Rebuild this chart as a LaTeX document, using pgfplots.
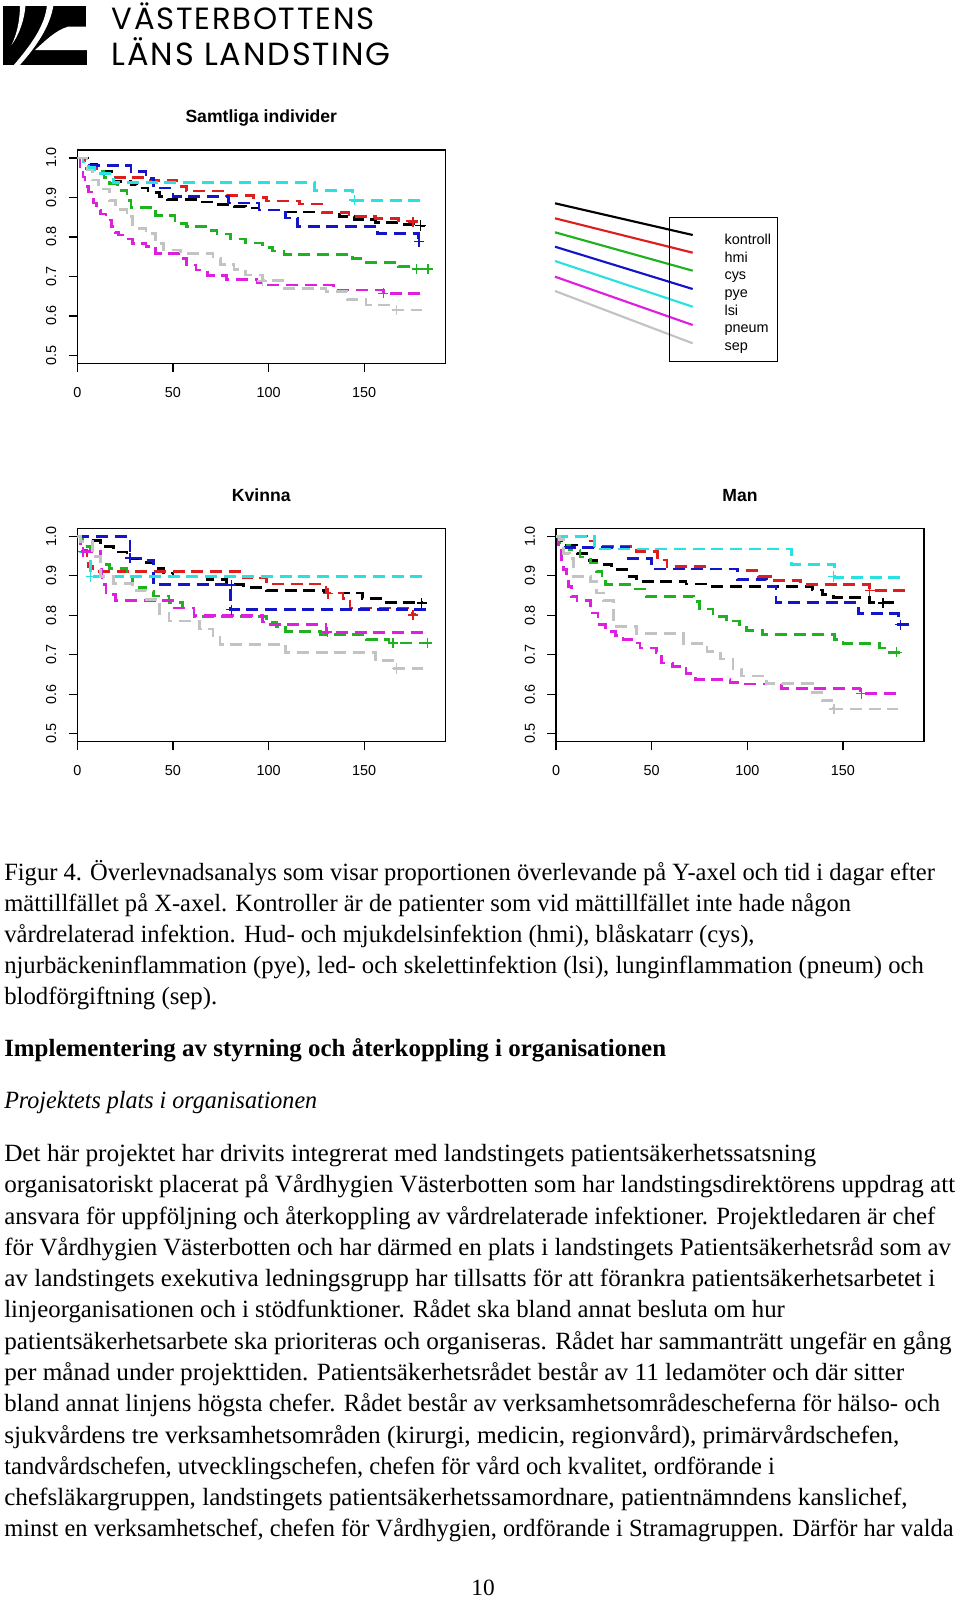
\documentclass[border=0pt]{standalone}
\usepackage{fontspec}
\setmainfont{Liberation Serif}
\newfontfamily\plotfont{Liberation Sans}
\newfontfamily\logofont{Poppins}[LetterSpace=5.6]
\usepackage{pgfplots}
\pgfplotsset{compat=1.18}
\definecolor{cK}{RGB}{0,0,0}
\definecolor{cR}{RGB}{222,30,30}
\definecolor{cG}{RGB}{30,178,30}
\definecolor{cB}{RGB}{20,20,200}
\definecolor{cC}{RGB}{40,225,225}
\definecolor{cM}{RGB}{224,30,224}
\definecolor{cS}{RGB}{195,195,195}
\newcommand\bodyfont{\fontsize{18.6}{23}\selectfont}
\newcommand\txtline[3]{\node at (4,#2) {\scalebox{#1}[1]{#3}};}
\pgfplotsset{
  kmaxis/.style={
    scale only axis, width=276pt, height=160pt,
    xmin=0, xmax=192.4, ymin=0.48, ymax=1.02,
    xtick={0,50,100,150}, xticklabels={0,50,100,150},
    ytick={0.5,0.6,0.7,0.8,0.9,1.0}, yticklabels={0.5,0.6,0.7,0.8,0.9,1.0},
    xtick pos=bottom, ytick pos=left,
    tick align=outside, major tick length=6.5pt,
    tick style={black, line width=0.9pt},
    axis line style={line width=0.9pt},
    ticklabel style={font=\plotfont\fontsize{10.8}{12}\selectfont},
    xticklabel style={anchor=base, yshift=-19pt},
    yticklabel style={xshift=-9.4pt, rotate=90, anchor=base},
    title style={font=\plotfont\bfseries\fontsize{13.2}{15}\selectfont, at={(0.5,1)}, anchor=base, yshift=15pt},
  },
  km/.style={const plot, line width=2pt, dash pattern=on 9pt off 5pt, #1},
  cens/.style={only marks, mark=+, mark size=3.8pt, line width=1.1pt, #1},
}
\begin{document}
\begin{tikzpicture}
\fill[white] (0pt,0pt) rectangle (720pt,-1200pt);
\path[use as bounding box] (0pt,0pt) rectangle (720pt,-1200pt);

\begin{scope}[x=0.75pt,y=-0.75pt]
% ---------- logo ----------
\fill[black] (3.3,6) rectangle (87.3,65);
\fill[white] (87.5,26.7) -- (68,26.7) .. controls (56,30) and (45,41) .. (35,50) -- (87.5,50) -- cycle;
\fill[white] (86,5) rectangle (88,26.7);
\fill[white] (20,5) .. controls (20,20) and (17,34) .. (11.5,45) .. controls (19,35) and (24.5,20) .. (25.5,5) -- cycle;
\fill[white] (47,5) .. controls (45,26) and (31,45) .. (13,66) -- (19,66) .. controls (36,47) and (50,27) .. (53.5,5) -- cycle;
\node[anchor=base west, inner sep=0pt, font=\logofont\fontsize{23}{23}\selectfont] at (111.7,29.5) {VÄSTERBOTTENS};
\node[anchor=base west, inner sep=0pt, font=\logofont\fontsize{24}{24}\selectfont] at (111.7,65) {LÄNS LANDSTING};
\end{scope}

% ---------- Samtliga individer ----------
\begin{axis}[kmaxis, at={(57.975pt,-112.5pt)}, anchor=north west, title={Samtliga individer}]
\addplot[km=cK] coordinates {(0,1) (6.6,0.983) (10,0.965) (19,0.941) (28,0.933) (31,0.924) (37,0.912) (43,0.902) (47,0.894) (64,0.888) (71,0.882) (82,0.877) (88,0.873) (95,0.868) (108,0.863) (128,0.861) (137,0.851) (145,0.844) (156,0.837) (168,0.832) (176,0.828) (182,0.828)};
\addplot[km=cR] coordinates {(0,1) (4,0.973) (10,0.962) (17,0.95) (38,0.943) (52,0.928) (57,0.916) (78,0.905) (92,0.9) (99,0.891) (116,0.883) (128,0.862) (142,0.852) (156,0.846) (168,0.84) (180,0.84)};
\addplot[km=cG] coordinates {(0,1) (5,0.975) (8,0.965) (14,0.95) (17,0.935) (21,0.918) (26,0.893) (28,0.875) (41,0.855) (51,0.834) (57,0.826) (67,0.817) (73,0.807) (80,0.795) (88,0.785) (97,0.774) (102,0.764) (108,0.756) (144,0.746) (151,0.736) (168,0.725) (174,0.719) (184,0.719)};
\addplot[km=cB] coordinates {(0,1) (5,0.98) (28,0.965) (36,0.948) (40,0.924) (50,0.903) (79,0.886) (95,0.868) (109,0.848) (115,0.827) (157,0.809) (178.5,0.788) (180,0.788)};
\addplot[km=cC] coordinates {(0,1) (3,0.99) (6,0.975) (9,0.96) (19,0.937) (124,0.918) (144,0.893) (180,0.893)};
\addplot[km=cM] coordinates {(0,1) (1.4,0.977) (3,0.952) (4,0.927) (5.7,0.914) (7.5,0.9) (8.4,0.886) (10,0.868) (12,0.858) (15,0.843) (18,0.826) (19.7,0.811) (21.4,0.805) (25,0.795) (29,0.784) (36,0.775) (41,0.758) (54,0.746) (57,0.729) (62,0.716) (68,0.703) (78,0.693) (94,0.683) (99,0.678) (134,0.666) (160,0.657) (179,0.657)};
\addplot[km=cS] coordinates {(0,1) (5,0.969) (8,0.944) (11,0.921) (17,0.893) (20,0.87) (26,0.851) (29,0.822) (36,0.809) (41,0.784) (45,0.767) (54,0.758) (71,0.746) (75,0.731) (82,0.718) (88,0.704) (97,0.689) (108,0.670) (130,0.662) (141,0.641) (151,0.628) (163,0.615) (180,0.615)};
\addplot[cens=cK] coordinates {(179.4,0.829)};
\addplot[cens=cR] coordinates {(175.6,0.838)};
\addplot[cens=cG] coordinates {(177.4,0.719) (183.4,0.719)};
\addplot[cens=cB] coordinates {(178.7,0.788)};
\addplot[cens=cC] coordinates {(144.8,0.893)};
\addplot[cens=cM] coordinates {(160,0.657)};
\addplot[cens=cS] coordinates {(96.7,0.689) (167,0.615)};
\end{axis}

% ---------- legend ----------
\begin{axis}[hide axis, scale only axis, clip=false, width=195pt, height=135pt,
  xmin=540, xmax=800, ymin=-370, ymax=-190, at={(405pt,-277.5pt)}, anchor=south west]
\addplot[cK, line width=1.6pt] coordinates {(555,-203.3) (692.7,-235)};
\addplot[cR, line width=1.6pt] coordinates {(555,-218.3) (692.7,-252.7)};
\addplot[cG, line width=1.6pt] coordinates {(555,-232.3) (692.7,-270.7)};
\addplot[cB, line width=1.6pt] coordinates {(555,-246.7) (692.7,-289)};
\addplot[cC, line width=1.6pt] coordinates {(555,-261) (692.7,-306.7)};
\addplot[cM, line width=1.6pt] coordinates {(555,-276.7) (692.7,-325)};
\addplot[cS, line width=1.6pt] coordinates {(555,-291) (692.7,-343.3)};
\draw[line width=0.9pt] (axis cs:669.3,-217.3) rectangle (axis cs:777.7,-361.7);
\begin{scope}[every node/.style={anchor=base west, inner sep=0pt, font=\plotfont\fontsize{10.8}{12}\selectfont}]
\node at (axis cs:724.3,-244.3) {kontroll};
\node at (axis cs:724.3,-262) {hmi};
\node at (axis cs:724.3,-279.7) {cys};
\node at (axis cs:724.3,-297.4) {pye};
\node at (axis cs:724.3,-315.1) {lsi};
\node at (axis cs:724.3,-332.8) {pneum};
\node at (axis cs:724.3,-350.5) {sep};
\end{scope}
\end{axis}

% ---------- Kvinna ----------
\begin{axis}[kmaxis, at={(57.975pt,-396.225pt)}, anchor=north west, title={Kvinna}, title style={yshift=-0.8pt}]
\addplot[km=cK] coordinates {(0,1) (6.6,0.989) (12,0.974) (19,0.96) (26,0.944) (33,0.934) (40,0.918) (45,0.907) (50,0.898) (68,0.89) (78,0.877) (87,0.871) (99,0.863) (129,0.856) (149,0.843) (160,0.833) (181,0.833)};
\addplot[km=cR] coordinates {(0,1) (3,0.965) (5,0.94) (6,0.923) (8,0.911) (87,0.894) (99,0.879) (130,0.856) (139,0.843) (142.5,0.818) (175,0.801) (177,0.801)};
\addplot[km=cG] coordinates {(0,1) (3,0.974) (7,0.949) (12,0.929) (17,0.918) (26,0.898) (29,0.871) (36,0.86) (40,0.849) (48,0.832) (55,0.818) (61,0.797) (99,0.782) (104,0.772) (109,0.759) (127,0.751) (151,0.738) (163,0.73) (184,0.73)};
\addplot[km=cB] coordinates {(0,1) (27.5,0.945) (33,0.939) (40,0.877) (80,0.814) (182.6,0.814)};
\addplot[km=cC] coordinates {(0,1) (1.5,0.96) (7,0.898) (180,0.898)};
\addplot[km=cM] coordinates {(0,1) (1.5,0.961) (12,0.915) (13,0.877) (15,0.852) (20,0.837) (50,0.818) (61,0.8) (97,0.783) (99,0.776) (130,0.757) (181,0.757)};
\addplot[km=cS] coordinates {(0,1) (1.5,0.987) (8,0.949) (12,0.898) (19,0.881) (29,0.863) (36,0.839) (41,0.827) (43,0.804) (48,0.785) (64,0.765) (71,0.747) (74.6,0.726) (109,0.706) (156,0.685) (165,0.665) (181,0.665)};
\addplot[cens=cK] coordinates {(180,0.831)};
\addplot[cens=cR] coordinates {(131,0.855) (175.6,0.801)};
\addplot[cens=cG] coordinates {(165,0.73) (183,0.73)};
\addplot[cens=cB] coordinates {(27.5,0.945) (80.5,0.877) (80.5,0.814)};
\addplot[cens=cC] coordinates {(7,0.898)};
\addplot[cens=cM] coordinates {(3,0.961) (130.7,0.757)};
\addplot[cens=cS] coordinates {(167,0.665)};
\end{axis}

% ---------- Man ----------
\begin{axis}[kmaxis, at={(417pt,-396.225pt)}, anchor=north west, title={Man}, title style={yshift=-0.8pt}]
\addplot[km=cK] coordinates {(0,1) (5.6,0.978) (11,0.957) (16,0.938) (21,0.929) (29,0.915) (37,0.898) (42,0.886) (68,0.879) (79,0.873) (134,0.864) (139.5,0.852) (145,0.845) (164,0.833) (177,0.833)};
\addplot[km=cR] coordinates {(0,1) (16,0.988) (20,0.974) (42,0.961) (53,0.94) (58,0.923) (79,0.917) (95,0.913) (106,0.898) (112,0.888) (128,0.877) (164,0.862) (183,0.862)};
\addplot[km=cG] coordinates {(0,1) (2,0.978) (7,0.965) (12.5,0.947) (18,0.932) (21,0.911) (24,0.89) (26,0.877) (40,0.866) (47,0.848) (72,0.835) (75,0.816) (82,0.797) (89,0.785) (96,0.77) (99.5,0.762) (108,0.751) (145.6,0.738) (150,0.728) (169,0.717) (172.6,0.706) (180,0.706)};
\addplot[km=cB] coordinates {(0,1) (3,0.972) (38,0.944) (50,0.917) (95,0.891) (110,0.873) (115,0.832) (158,0.804) (179,0.776) (185,0.776)};
\addplot[km=cC] coordinates {(0,1) (20,0.968) (123,0.929) (145.6,0.896) (181,0.896)};
\addplot[km=cM] coordinates {(0,1) (1.4,0.974) (3,0.94) (4,0.915) (5.6,0.89) (6.5,0.873) (8,0.848) (11,0.837) (18,0.806) (22,0.776) (26,0.758) (31,0.748) (35,0.738) (40,0.73) (44,0.717) (52.5,0.705) (55,0.679) (61,0.671) (68,0.652) (73,0.637) (91,0.629) (96,0.626) (118,0.614) (159,0.602) (178,0.602)};
\addplot[km=cS] coordinates {(0,1) (2,0.991) (4,0.957) (7,0.944) (9,0.898) (18,0.886) (21,0.856) (25,0.837) (30,0.772) (42,0.753) (66.5,0.728) (79,0.709) (86,0.689) (92.5,0.664) (97,0.646) (110,0.627) (134,0.604) (139,0.584) (145,0.563) (179,0.563)};
\addplot[cens=cK] coordinates {(171,0.831)};
\addplot[cens=cR] coordinates {(164,0.862)};
\addplot[cens=cG] coordinates {(178,0.706)};
\addplot[cens=cB] coordinates {(180,0.776)};
\addplot[cens=cC] coordinates {(145,0.898)};
\addplot[cens=cM] coordinates {(159.6,0.602)};
\addplot[cens=cS] coordinates {(145.3,0.563)};
\end{axis}

% ---------- text ----------
\begin{scope}[x=0.75pt,y=-0.75pt,every node/.style={anchor=base west, inner sep=0pt, font=\bodyfont}]
\txtline{0.99}{880}{Figur 4. Överlevnadsanalys som visar proportionen överlevande på Y-axel och tid i dagar efter}
\txtline{0.99}{911.2}{mättillfället på X-axel. Kontroller är de patienter som vid mättillfället inte hade någon}
\txtline{0.995}{942.4}{vårdrelaterad infektion. Hud- och mjukdelsinfektion (hmi), blåskatarr (cys),}
\txtline{0.995}{973.6}{njurbäckeninflammation (pye), led- och skelettinfektion (lsi), lunginflammation (pneum) och}
\txtline{1}{1004.8}{blodförgiftning (sep).}
\node[font=\bodyfont\bfseries] at (4,1056) {\scalebox{1.005}[1]{Implementering av styrning och återkoppling i organisationen}};
\node[font=\bodyfont\itshape] at (4,1108.5) {\scalebox{0.97}[1]{Projektets plats i organisationen}};
\txtline{1.018}{1161.5}{Det här projektet har drivits integrerat med landstingets patientsäkerhetssatsning}
\txtline{1.012}{1192.8}{organisatoriskt placerat på Vårdhygien Västerbotten som har landstingsdirektörens uppdrag att}
\txtline{1.0}{1224.1}{ansvara för uppföljning och återkoppling av vårdrelaterade infektioner. Projektledaren är chef}
\txtline{1.005}{1255.3}{för Vårdhygien Västerbotten och har därmed en plats i landstingets Patientsäkerhetsråd som av}
\txtline{1.015}{1286.6}{av landstingets exekutiva ledningsgrupp har tillsatts för att förankra patientsäkerhetsarbetet i}
\txtline{1.0}{1317.9}{linjeorganisationen och i stödfunktioner. Rådet ska bland annat besluta om hur}
\txtline{1.015}{1349.2}{patientsäkerhetsarbete ska prioriteras och organiseras. Rådet har sammanträtt ungefär en gång}
\txtline{1.018}{1380.5}{per månad under projekttiden. Patientsäkerhetsrådet består av 11 ledamöter och där sitter}
\txtline{1.0}{1411.7}{bland annat linjens högsta chefer. Rådet består av verksamhetsområdescheferna för hälso- och}
\txtline{1.024}{1443.0}{sjukvårdens tre verksamhetsområden (kirurgi, medicin, regionvård), primärvårdschefen,}
\txtline{0.993}{1474.3}{tandvårdschefen, utvecklingschefen, chefen för vård och kvalitet, ordförande i}
\txtline{1.015}{1505.6}{chefsläkargruppen, landstingets patientsäkerhetssamordnare, patientnämndens kanslichef,}
\txtline{0.984}{1536.9}{minst en verksamhetschef, chefen för Vårdhygien, ordförande i Stramagruppen. Därför har valda}
\node[anchor=base, font=\fontsize{17.5}{18}\selectfont] at (483,1595.5) {10};
\end{scope}
\end{tikzpicture}
\end{document}
